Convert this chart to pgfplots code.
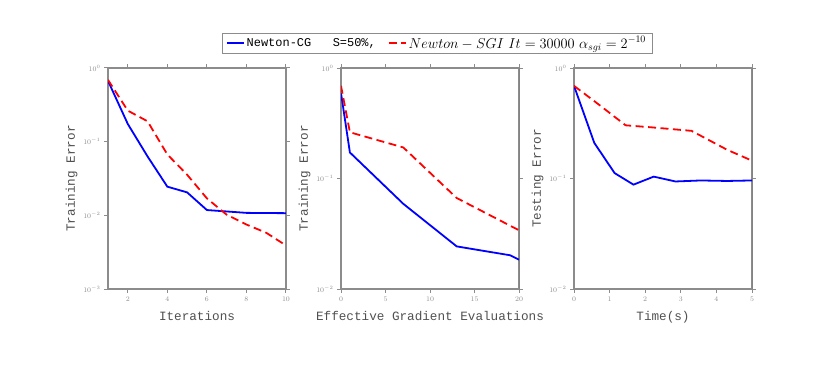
\documentclass[border=0pt]{standalone}
\usepackage{fontspec}
\setmonofont{Liberation Mono}
\usepackage{pgfplots}
\pgfplotsset{compat=1.18}
\definecolor{axgray}{HTML}{8C8C8C}
\definecolor{txtgray}{HTML}{505050}

\pgfplotsset{
  errplot/.style={
    scale only axis, width=178bp, height=221bp,
    axis line style={axgray, line width=1.2bp},
    xtick pos=both, ytick pos=both,
    xticklabel pos=left, yticklabel pos=left,
    tick align=outside,
    major tick length=4bp,
    minor tick length=0pt,
    tick style={axgray, line width=1bp},
    ticklabel style={font=\fontsize{7}{8}\selectfont\ttfamily, color=axgray},
    label style={font=\fontsize{12.7}{14}\selectfont\ttfamily, color=txtgray},
    ylabel style={yshift=-1bp},
    xlabel style={yshift=-3bp},
  },
}
\tikzset{
  cg/.style={blue, line width=1.8bp, solid},
  sgi/.style={red, line width=1.8bp, dash pattern=on 8bp off 4.5bp},
}

\begin{document}
\begin{tikzpicture}
\path[use as bounding box] (0,0) rectangle (830bp,371bp);

% Panel 1: training error vs iterations
\begin{semilogyaxis}[errplot, at={(108bp,82bp)}, anchor=south west,
  xmin=1, xmax=10, ymin=1e-3, ymax=1,
  xtick={2,4,6,8,10},
  xlabel={Iterations}, ylabel={Training Error},
  legend columns=2,
  legend style={at={(1.848,1.113)}, anchor=center, draw=axgray, line width=0.8bp,
    font=\fontsize{12}{14}\selectfont, inner xsep=4bp, inner ysep=1.5bp,
    /tikz/every even column/.append style={column sep=10bp}},
]
\addplot[cg] coordinates {
  (1,0.67) (2,0.174) (3,0.063) (4,0.0245) (5,0.0205) (6,0.0118) (8,0.0108) (10,0.0107)
};
\addlegendentry{\ttfamily Newton-CG\ \ \ S=50\%,}
\addplot[sgi] coordinates {
  (1,0.69) (2,0.264) (3,0.189) (4,0.067) (5,0.0356) (6,0.017) (7,0.0102) (8,0.0075) (9,0.0058) (10,0.0039)
};
\addlegendentry{\fontsize{13.6}{14}\selectfont$Newton - SGI\ It = 30000\ \alpha_{sgi} = 2^{-10}$}
\end{semilogyaxis}

% Panel 2: training error vs effective gradient evaluations
\begin{semilogyaxis}[errplot, at={(341bp,82bp)}, anchor=south west,
  xmin=0, xmax=20, ymin=1e-2, ymax=1,
  xtick={0,5,10,15,20},
  xlabel={Effective Gradient Evaluations}, ylabel={Training Error},
]
\addplot[cg] coordinates {
  (0,0.594) (1,0.172) (7,0.059) (13,0.0243) (19,0.0202) (20,0.0184)
};
\addplot[sgi] coordinates {
  (0,0.69) (1,0.262) (7,0.191) (13,0.0666) (20,0.034)
};
\draw[black!70, line width=0.6bp] (rel axis cs:1,0) -- (rel axis cs:1,1);
\end{semilogyaxis}

% Panel 3: testing error vs time
\begin{semilogyaxis}[errplot, at={(574bp,82bp)}, anchor=south west,
  xmin=0, xmax=5, ymin=1e-2, ymax=1,
  xtick={0,1,2,3,4,5},
  xlabel={Time(s)}, ylabel={Testing Error},
]
\addplot[cg] coordinates {
  (0,0.69) (0.57,0.21) (1.14,0.112) (1.67,0.088) (2.24,0.104) (2.85,0.094) (3.56,0.096) (4.3,0.095) (5,0.096)
};
\addplot[sgi] coordinates {
  (0,0.69) (0.7,0.466) (1.45,0.303) (2.2,0.29) (3.3,0.27) (3.6,0.24) (4.3,0.182) (5,0.145)
};
\draw[black!70, line width=0.6bp] (rel axis cs:1,0) -- (rel axis cs:1,1);
\end{semilogyaxis}
\end{tikzpicture}
\end{document}
